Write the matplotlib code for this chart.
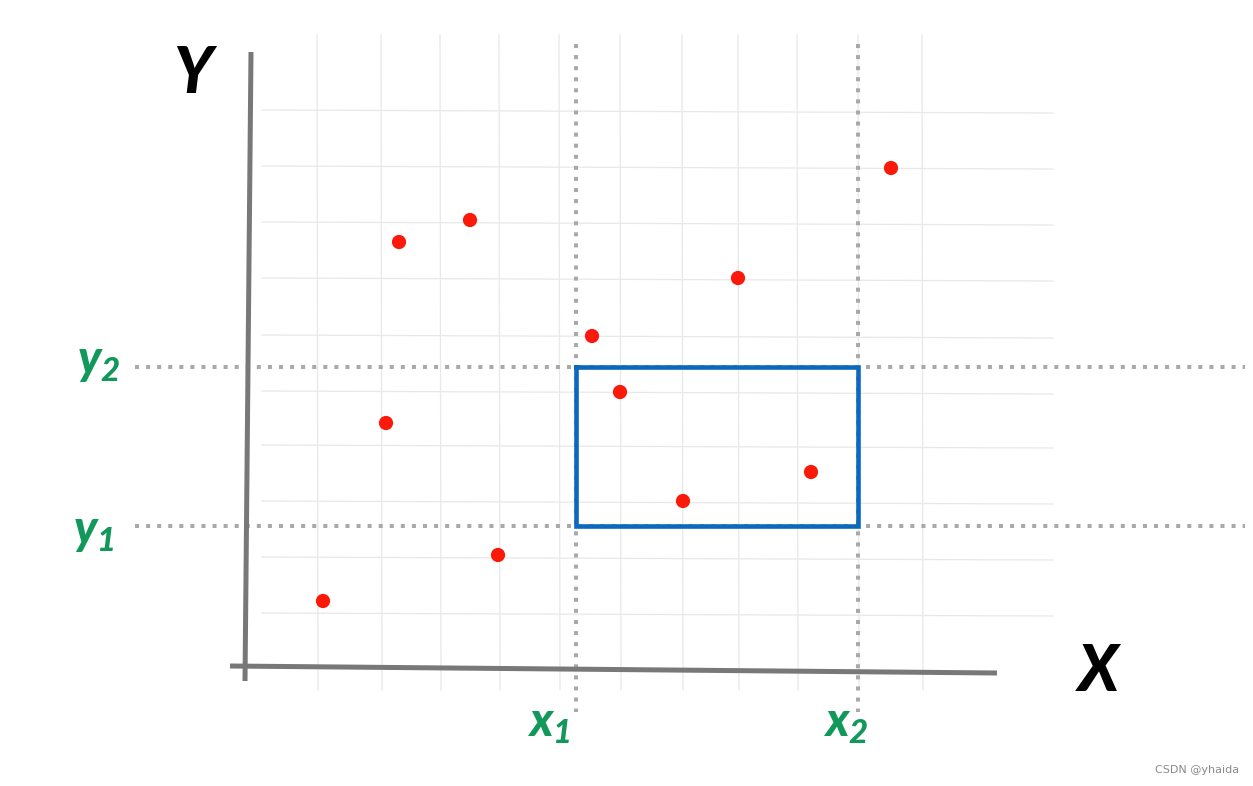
import matplotlib
matplotlib.use("Agg")
import matplotlib.pyplot as plt

plt.rcParams["mathtext.fontset"] = "custom"
plt.rcParams["mathtext.it"] = "Lato:italic:black"
plt.rcParams["mathtext.rm"] = "Lato:italic:black"

# diagram data, in pixel units of the original picture (y grows downward)
pts_x = [323, 399, 470, 386, 498, 592, 620, 683, 738, 811, 891]
pts_y = [601, 242, 220, 423, 555, 336, 392, 501, 278, 472, 168]

x1, x2 = 576, 858
y1, y2 = 526, 367

grid_x = [317, 381, 440, 499, 559, 620, 682, 738, 797, 858, 922]
grid_y = [110, 166, 222, 278, 335, 391, 445, 501, 557, 613]

W, H = 1253, 786
fig = plt.figure(figsize=(W / 100, H / 100), dpi=100)
ax = fig.add_axes([0, 0, 1, 1])
ax.set_xlim(0, W)
ax.set_ylim(H, 0)
ax.axis("off")

# faint background grid
for gx in grid_x:
    ax.plot([gx, gx + 1], [35, 690], color="#e8e8e8", lw=0.9, zorder=1)
for gy in grid_y:
    ax.plot([262, 1053], [gy, gy + 3], color="#e8e8e8", lw=0.9, zorder=1)

# axes
ax_col = "#787878"
ax.plot([251, 245], [52, 681], color=ax_col, lw=3.6, solid_capstyle="butt", zorder=3)
ax.plot([230, 997], [666, 673], color=ax_col, lw=3.6, solid_capstyle="butt", zorder=3)

# dotted guides
dot = dict(color="#a9a9a9", lw=2.9, linestyle=(0, (1, 1.75)), dash_capstyle="butt", zorder=2)
for xv in (x1, x2):
    ax.plot([xv, xv], [44, 712], **dot)
for yv in (y1, y2):
    ax.plot([135, 1245], [yv, yv], **dot)

# selection box
ax.plot([x1, x2, x2, x1, x1], [y2, y2, y1, y1, y2], color="#0b68bd", lw=3.3,
        solid_joinstyle="miter", zorder=4)

# points
ax.scatter(pts_x, pts_y, s=105, color="#fb1a0a", edgecolors="none", zorder=5)

# labels
big = dict(family="Lato", fontweight="black", fontstyle="italic", color="black",
           fontsize=46, ha="center", va="center")
ax.text(193, 74, "Y", **big)
ax.text(1098, 672, "X", **big)

green = "#11985a"
for label, lx, ly in [(r"$y_{2}$", 77, 374),
                      (r"$y_{1}$", 73, 544),
                      (r"$x_{1}$", 527, 737),
                      (r"$x_{2}$", 823, 737)]:
    ax.text(lx, ly, label, fontsize=34, color=green, ha="left", va="baseline")

ax.text(1239, 770, "CSDN @yhaida", color="#8a8a8a", fontsize=8, ha="right", va="center",
        family="DejaVu Sans")

fig.savefig("out.png", dpi=100)
